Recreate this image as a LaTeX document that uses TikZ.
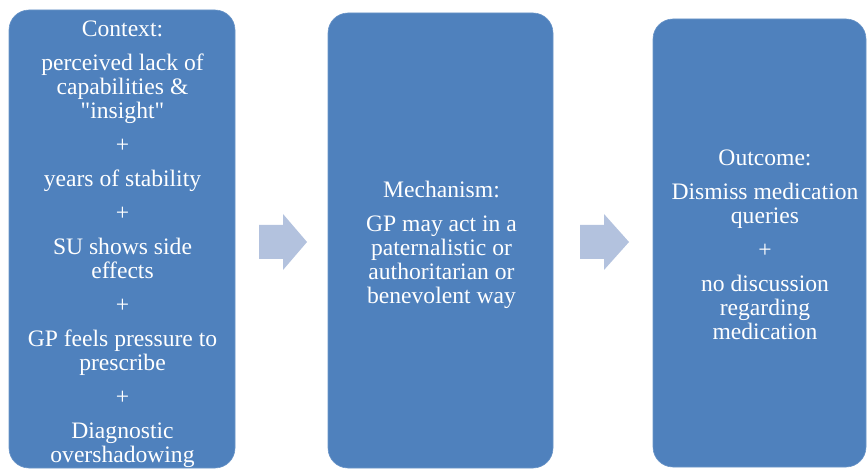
\documentclass[tikz,border=0pt]{standalone}
\usepackage{fontspec}
\setmainfont{Liberation Serif}
\newfontfamily\plainserif{Liberation Serif}
\newcommand{\straightquote}{{\plainserif"}}
\definecolor{boxblue}{HTML}{4F81BD}
\definecolor{boxedge}{HTML}{6A95C8}
\definecolor{arrowblue}{HTML}{B3C2DE}
\begin{document}
\begin{tikzpicture}[x=1pt,y=-1pt,
  stagebox/.style={draw=boxedge, line width=0.6pt, fill=boxblue, rounded corners=20pt, inner sep=0pt},
  stagetext/.style={text=white, align=center, font=\fontsize{23.6}{24}\selectfont, inner sep=0pt},
  blockarrow/.style={fill=arrowblue}]
\useasboundingbox (0,0) rectangle (868,470);
% boxes
\node[stagebox, minimum width=226pt, minimum height=458pt] (ctx) at (122,239) {};
\node[stagebox, minimum width=225pt, minimum height=455pt] (mech) at (440.5,240.5) {};
\node[stagebox, minimum width=213pt, minimum height=448pt] (out) at (759.5,243) {};
% texts
\node[stagetext] (ctxt) at (122.5,244.5) {Context:\\[10pt]perceived lack of\\capabilities \&\\\straightquote insight\straightquote\\[10pt]+\\[10pt]years of stability\\[10pt]+\\[10pt]SU shows side\\effects\\[10pt]+\\[10pt]GP feels pressure to\\prescribe\\[10pt]+\\[10pt]Diagnostic\\overshadowing};
\node[stagetext] (mecht) at (441.5,244.5) {Mechanism:\\[10pt]GP may act in a\\paternalistic or\\authoritarian or\\benevolent way};
\node[stagetext] (outt) at (765,245) {Outcome:\\[10pt]Dismiss medication\\queries\\[10pt]+\\[10pt]no discussion\\regarding\\medication};
% block arrows
\fill[blockarrow] (259,225) -- (283,225) -- (283,214) -- (307,242) -- (283,270) -- (283,259) -- (259,259) -- cycle;
\fill[blockarrow] (580,225) -- (604,225) -- (604,214) -- (629,242) -- (604,270) -- (604,259) -- (580,259) -- cycle;
\end{tikzpicture}
\end{document}
